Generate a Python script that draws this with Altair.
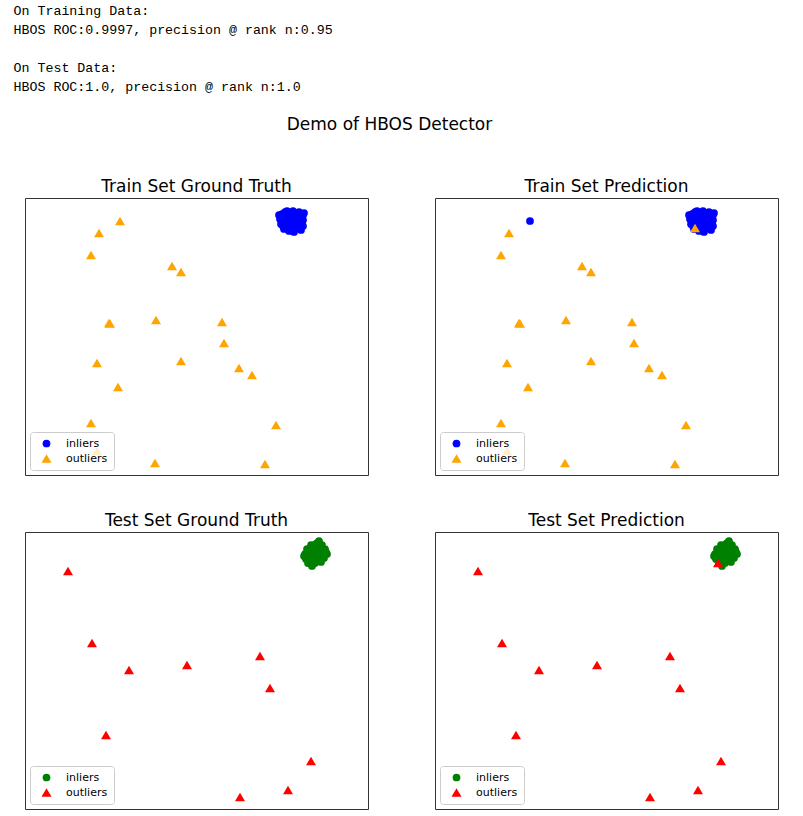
import altair as alt
import pandas as pd

# ---- values (frame-relative units: x 0..343, y 0..277) ----
labels = ["inliers", "outliers"]

train_out_x = [95, 74, 66, 147, 156, 84, 85, 131, 197, 199, 72, 156, 214, 227, 93, 66, 251, 72, 130, 240]
train_out_y = [254, 242, 220, 209, 203, 152, 151.5, 155, 153, 132, 112, 114, 107, 100, 88, 52, 50, 24, 12, 11]

train_in_x = [257, 262, 268, 274, 278, 255, 261, 267, 273, 278, 256, 262, 268, 274, 278,
              259, 265, 271, 276, 264, 269, 260, 272, 276, 254, 279, 258, 266, 271, 263,
              259, 264, 270, 275, 262, 268, 273, 257, 266, 277, 260]
train_in_y = [261, 264, 264, 263, 260, 256, 258, 259, 258, 255, 251, 253, 253, 252, 249,
              246, 247, 247, 245, 244, 243, 263, 261, 257, 260, 262, 249, 256, 250, 250,
              253, 259, 261, 259, 248, 250, 248, 257, 262, 253, 247]

test_out_x = [43, 67, 104, 162, 235, 245, 81, 286, 263, 215]
test_out_y = [238, 166, 139, 144, 153, 121, 74, 48, 19, 12]

test_in_x = [286, 292, 297, 282, 288, 294, 300, 280, 286, 292, 298, 302, 281, 287, 293, 299,
             284, 290, 296, 287, 294, 301, 279, 291, 295, 284, 290, 296, 289, 295, 289,
             285, 298, 300, 292, 283]
test_in_y = [264, 266, 264, 260, 261, 261, 260, 255, 256, 256, 256, 255, 250, 251, 251, 251,
             246, 246, 247, 243, 268, 257, 253, 260, 253, 258, 258, 258, 264, 249, 253,
             253, 253, 258, 248, 246]

# prediction errors (indices)
train_missed_outliers = [0]          # true outliers predicted as inliers
train_flagged_inliers = [40]         # true inliers predicted as outliers
test_missed_outliers = []
test_flagged_inliers = [35]

train_lines = ["On Training Data:", "HBOS ROC:0.9997, precision @ rank n:0.95"]
test_lines = ["On Test Data:", "HBOS ROC:1.0, precision @ rank n:1.0"]


def ground_truth(in_x, in_y, out_x, out_y):
    rows = [{"x": a, "y": b, "label": "inliers"} for a, b in zip(in_x, in_y)]
    rows += [{"x": a, "y": b, "label": "outliers"} for a, b in zip(out_x, out_y)]
    return pd.DataFrame(rows)


def prediction(in_x, in_y, out_x, out_y, missed, flagged):
    pin, pout = [], []
    for i, (a, b) in enumerate(zip(in_x, in_y)):
        (pout if i in flagged else pin).append((a, b))
    for i, (a, b) in enumerate(zip(out_x, out_y)):
        (pin if i in missed else pout).append((a, b))
    rows = [{"x": a, "y": b, "label": "inliers"} for a, b in pin]
    rows += [{"x": a, "y": b, "label": "outliers"} for a, b in pout]
    return pd.DataFrame(rows)


legend = alt.Legend(
    title=None, orient="bottom-left", offset=5,
    fillColor="rgba(255,255,255,0.8)", strokeColor="#cccccc", cornerRadius=3,
    padding=6, labelFont="DejaVu Sans", labelFontSize=11, labelColor="#000000",
    labelOffset=14, rowPadding=3, symbolOffset=5, symbolOpacity=1, symbolStrokeWidth=0,
)


def panel(df, title, colors):
    return alt.Chart(df).mark_point(filled=True, opacity=1).encode(
        x=alt.X("x:Q", axis=None, scale=alt.Scale(domain=[0, 343], nice=False, zero=False)),
        y=alt.Y("y:Q", axis=None, scale=alt.Scale(domain=[0, 277], nice=False, zero=False)),
        color=alt.Color("label:N", scale=alt.Scale(domain=labels, range=colors), legend=legend),
        shape=alt.Shape("label:N", scale=alt.Scale(domain=labels, range=["circle", "triangle-up"]), legend=legend),
        size=alt.Size("label:N", scale=alt.Scale(domain=labels, range=[60, 100]), legend=legend),
    ).properties(
        width=343, height=277,
        title=alt.TitleParams(title, font="DejaVu Sans", fontSize=17, fontWeight="normal",
                              color="#000000", offset=-11, baseline="alphabetic"),
    )


p1 = panel(ground_truth(train_in_x, train_in_y, train_out_x, train_out_y),
           "Train Set Ground Truth", ["#0000ff", "#ffa500"])
p2 = panel(prediction(train_in_x, train_in_y, train_out_x, train_out_y,
                      train_missed_outliers, train_flagged_inliers),
           "Train Set Prediction", ["#0000ff", "#ffa500"])
p3 = panel(ground_truth(test_in_x, test_in_y, test_out_x, test_out_y),
           "Test Set Ground Truth", ["#008000", "#ff0000"])
p4 = panel(prediction(test_in_x, test_in_y, test_out_x, test_out_y,
                      test_missed_outliers, test_flagged_inliers),
           "Test Set Prediction", ["#008000", "#ff0000"])


def indep(c):
    return c.resolve_scale(color="independent", shape="independent", size="independent").resolve_legend(
        color="independent", shape="independent", size="independent")


row1 = indep(alt.hconcat(p1, p2, spacing=65))
row2 = indep(alt.hconcat(p3, p4, spacing=65))
inner = indep(alt.vconcat(row1, row2, spacing=35)).properties(
    title=alt.TitleParams("Demo of HBOS Detector", font="DejaVu Sans", fontSize=17,
                          fontWeight="normal", color="#000000", anchor="middle", dx=-12, offset=44)
)
chart = indep(alt.vconcat(inner)).properties(
    title=alt.TitleParams(train_lines, subtitle=test_lines,
                          font="Liberation Mono", fontSize=13.3, fontWeight="normal",
                          color="#000000", anchor="start", dx=-11, lineHeight=19,
                          subtitleFont="Liberation Mono", subtitleFontSize=13.3,
                          subtitleFontWeight="normal", subtitleColor="#000000",
                          subtitleLineHeight=19, subtitlePadding=25, offset=22),
    padding={"left": 13, "top": 3, "right": 5, "bottom": 5},
    background="#ffffff",
).configure_view(stroke="#333333", strokeWidth=1)

chart.save("out.html", embed_options={"renderer": "svg", "actions": False})
